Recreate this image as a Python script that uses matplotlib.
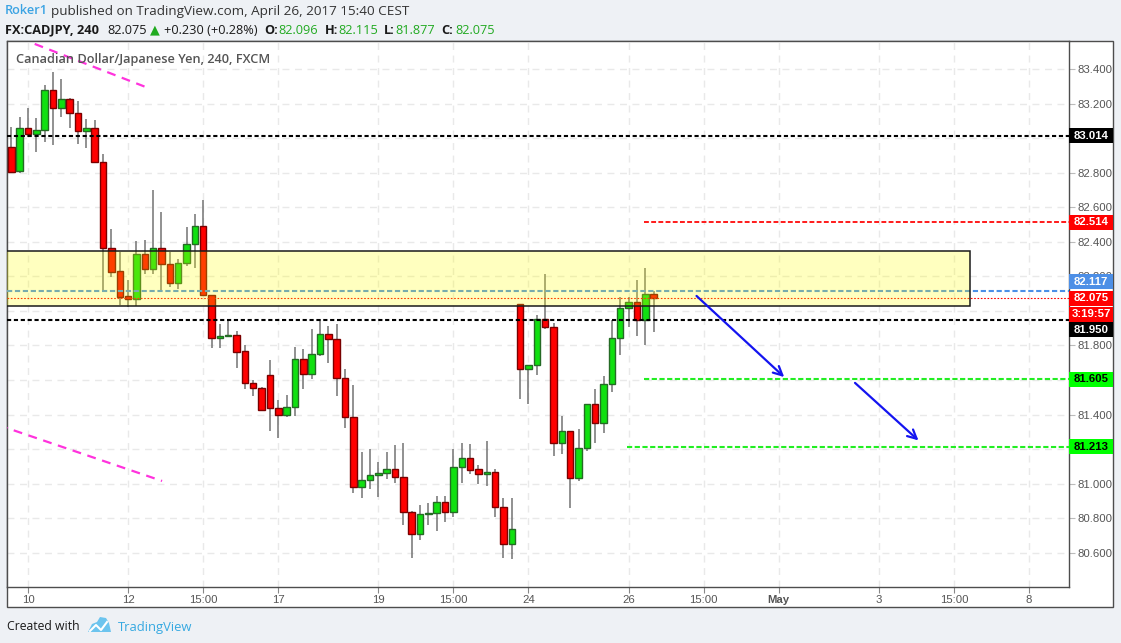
import matplotlib

matplotlib.use("Agg")
import matplotlib.pyplot as plt
from matplotlib.patches import Rectangle, Polygon
from matplotlib.transforms import blended_transform_factory

plt.rcParams["font.family"] = ["Liberation Sans", "DejaVu Sans"]

W, H = 1121, 643

# CADJPY 4h candles, Apr 7 - Apr 26 2017
opens = [
    82.948, 82.813, 83.058, 83.027, 83.047, 83.278, 83.178, 83.226, 83.145, 83.041,
    83.058, 82.861, 82.363, 82.230, 82.087, 82.067, 82.328, 82.245, 82.363, 82.270,
    82.164, 82.276, 82.386, 82.492, 82.094, 81.842, 81.855, 81.859, 81.768, 81.581,
    81.552, 81.627, 81.436, 81.395, 81.442, 81.720, 81.633, 81.749, 81.865, 81.836,
    81.610, 81.387, 80.978, 81.019, 81.048, 81.059, 81.083, 81.036, 80.837, 80.706,
    80.822, 80.828, 80.891, 80.837, 81.094, 81.146, 81.083, 81.054, 81.065, 80.862,
    80.648, 82.038, 81.662, 81.685, 81.952, 81.905, 81.233, 81.303, 81.034, 81.204,
    81.459, 81.349, 81.575, 81.842, 82.015, 82.050, 81.946, 82.096,
]
highs = [
    83.064, 83.122, 83.174, 83.116, 83.309, 83.383, 83.344, 83.234, 83.216, 83.110,
    83.106, 82.909, 82.473, 82.343, 82.179, 82.405, 82.411, 82.701, 82.573, 82.343,
    82.301, 82.486, 82.562, 82.643, 82.094, 81.924, 81.953, 81.884, 81.803, 81.600,
    81.558, 81.716, 81.484, 81.511, 81.791, 81.780, 81.895, 81.953, 81.911, 81.924,
    81.664, 81.571, 81.183, 81.200, 81.125, 81.183, 81.223, 81.235, 80.843, 80.874,
    80.887, 80.928, 80.928, 81.200, 81.235, 81.229, 81.106, 81.246, 81.083, 80.915,
    80.915, 82.040, 81.685, 81.975, 82.214, 81.928, 81.391, 81.303, 81.316, 81.459,
    81.548, 81.623, 81.948, 82.079, 82.079, 82.179, 82.247, 82.115,
]
lows = [
    82.802, 82.801, 83.006, 82.923, 82.981, 82.961, 83.125, 83.062, 82.967, 82.946,
    82.857, 82.121, 82.195, 82.034, 82.021, 82.029, 82.216, 82.216, 82.121, 82.140,
    82.125, 82.260, 82.251, 82.092, 81.787, 81.784, 81.847, 81.668, 81.546, 81.509,
    81.420, 81.306, 81.262, 81.384, 81.393, 81.549, 81.607, 81.739, 81.700, 81.507,
    81.324, 80.947, 80.918, 80.970, 80.924, 81.025, 81.001, 80.758, 80.570, 80.675,
    80.758, 80.727, 80.779, 80.808, 81.005, 81.057, 80.999, 80.988, 80.808, 80.570,
    80.565, 81.488, 81.461, 81.629, 81.894, 81.162, 81.173, 80.860, 81.016, 81.190,
    81.237, 81.295, 81.532, 81.745, 81.905, 81.857, 81.804, 81.877,
]
closes = [
    82.807, 83.058, 83.027, 83.047, 83.278, 83.178, 83.226, 83.145, 83.041, 83.058,
    82.861, 82.363, 82.227, 82.083, 82.067, 82.328, 82.245, 82.363, 82.270, 82.164,
    82.276, 82.386, 82.492, 82.094, 81.842, 81.855, 81.861, 81.764, 81.581, 81.552,
    81.424, 81.436, 81.395, 81.442, 81.720, 81.633, 81.749, 81.865, 81.836, 81.610,
    81.387, 80.978, 81.019, 81.048, 81.059, 81.083, 81.036, 80.837, 80.706, 80.822,
    80.827, 80.891, 80.838, 81.094, 81.146, 81.080, 81.054, 81.065, 80.862, 80.648,
    80.735, 81.662, 81.685, 81.952, 81.905, 81.233, 81.303, 81.034, 81.204, 81.459,
    81.349, 81.575, 81.842, 82.015, 82.050, 81.946, 82.096, 82.075,
]

tick_pos = [2, 14, 23, 32, 44, 53, 62, 74, 83, 92, 104, 113, 122]
tick_labels = ["10", "12", "15:00", "17", "19", "15:00", "24", "26", "15:00", "May", "3", "15:00", "8"]
price_ticks = [80.6, 80.8, 81.0, 81.2, 81.4, 81.6, 81.8, 82.0, 82.2, 82.4, 82.6, 82.8, 83.0, 83.2, 83.4]
hidden_ticks = [81.2, 81.6, 82.0, 83.0]  # covered by the price labels on the scale

# drawings
zone_x = [-3, 114.9]
zone_y = [82.027, 82.346]
black_levels = [83.014, 81.950]
resist_level = 82.514
target_levels = [81.605, 81.213]
target_start = [75.8, 73.8]
blue_level = 82.117
last_price = 82.075
pink_top_x, pink_top_y = [2.8, 16.4], [83.547, 83.292]
pink_bot_x, pink_bot_y = [-2.0, 18.07], [81.346, 81.015]
arrows = [((81.9, 82.098), (92.9, 81.606)), ((100.9, 81.594), (109.0, 81.239))]

label_texts = ["83.014", "82.514", "82.117", "82.075", "3:19:57", "81.950", "81.605", "81.213"]
label_y = [83.014, 82.514, 82.168, 82.075, 81.982, 81.890, 81.605, 81.213]
label_bg = ["#000000", "#ff0000", "#4d8fe6", "#ff0000", "#ff0000", "#000000", "#00ff00", "#00ff00"]
label_fg = ["white", "white", "white", "white", "white", "white", "black", "black"]

ymin, ymax = 80.4006, 83.564
xmin, xmax = -0.52, 126.8


def fx(px):
    return px / W


def fy(py):
    return 1 - py / H


fig = plt.figure(figsize=(W / 100, H / 100), dpi=100)
fig.patch.set_facecolor("#eef1f5")
fig.patches.append(Rectangle((fx(7), fy(607)), fx(1113) - fx(7), fy(41) - fy(607),
                             transform=fig.transFigure, facecolor="white",
                             edgecolor="#4d4d4d", lw=1, zorder=-5))

ax = fig.add_axes([fx(7), fy(587), (1069 - 7) / W, (587 - 41) / H])
ax.set_xlim(xmin, xmax)
ax.set_ylim(ymin, ymax)

# candles
idx = list(range(len(opens)))
ax.vlines(idx, lows, highs, color="#737373", lw=1.1, zorder=3)
for i, o, c in zip(idx, opens, closes):
    up = c >= o
    ax.bar(i, abs(c - o), bottom=min(o, c), width=0.78,
           color="#10e010" if up else "#ff0000",
           edgecolor="#256b25" if up else "#7a0000", lw=1.0, zorder=4)

# horizontal levels
for lv in black_levels:
    ax.axhline(lv, color="black", lw=1.5, ls=(0, (2, 1.3)), zorder=5)
ax.plot([75.8, xmax], [resist_level, resist_level], color="#ff1a1a", lw=1.4, ls=(0, (2.5, 1.2)), zorder=5)
for lv, xs in zip(target_levels, target_start):
    ax.plot([xs, xmax], [lv, lv], color="#22ee22", lw=1.5, ls=(0, (2.5, 1.2)), zorder=5)
ax.axhline(blue_level, color="#4a8fe7", lw=1.5, ls=(0, (2.5, 1.3)), zorder=5)
ax.axhline(last_price, color="#ff0000", lw=0.8, ls=(0, (1.5, 1.5)), zorder=5)

# channel lines
ax.plot(pink_top_x, pink_top_y, color="#ff33dd", lw=1.6, ls=(0, (4, 3)), zorder=5)
ax.plot(pink_bot_x, pink_bot_y, color="#ff33dd", lw=1.6, ls=(0, (4, 3)), zorder=5)

# supply/demand zone
ax.add_patch(Rectangle((zone_x[0], zone_y[0]), zone_x[1] - zone_x[0], zone_y[1] - zone_y[0],
                       facecolor=(1, 1, 0, 0.25), edgecolor="#1a1a1a", lw=1.1, zorder=6))

for (x0, y0), (x1, y1) in arrows:
    ax.annotate("", xy=(x1, y1), xytext=(x0, y0),
                arrowprops=dict(arrowstyle="->", color="#1414f0", lw=1.6, mutation_scale=16),
                zorder=7)

# grid / axes
ax.set_xticks(tick_pos)
ax.set_xticklabels(tick_labels)
ax.set_yticks(price_ticks)
ax.set_yticklabels(["" if any(abs(v - h) < 1e-9 for h in hidden_ticks) else f"{v:.3f}"
                    for v in price_ticks])
ax.grid(True, color="#e9e9e9", lw=1, ls=(0, (5, 4)), zorder=0)
ax.set_axisbelow(True)
ax.yaxis.tick_right()
ax.tick_params(axis="y", length=4, color="#bbbbbb", labelcolor="#555555", labelsize=8.2, pad=2)
ax.tick_params(axis="x", length=4, color="#888888", labelcolor="#555555", labelsize=8.2, pad=2)
for lab in ax.get_xticklabels():
    if lab.get_text() == "May":
        lab.set_fontweight("bold")
for sp in ax.spines.values():
    sp.set_color("#4d4d4d")
    sp.set_linewidth(1)

# price labels on the right scale
trans = blended_transform_factory(ax.transAxes, ax.transData)
box_h = 15 * (ymax - ymin) / 546
box_w = (1113 - 1069) / (1069 - 7)
for txt, yv, bg, fg in zip(label_texts, label_y, label_bg, label_fg):
    ax.add_patch(Rectangle((1.0, yv - box_h / 2), box_w, box_h, transform=trans,
                           facecolor=bg, edgecolor="none", clip_on=False, zorder=10))
    ax.text(1.0 + box_w / 2, yv, txt, transform=trans, ha="center", va="center",
            color=fg, fontsize=8.2, fontweight="bold", clip_on=False, zorder=11)

hdr = ["Open Sans", "DejaVu Sans"]
fig.text(fx(16), fy(60), "Canadian Dollar/Japanese Yen, 240, FXCM", ha="left", va="center",
         fontsize=9.2, color="#555555", fontweight="semibold", family=hdr)

# header
fig.text(fx(5), fy(11), "Roker1", ha="left", va="center", fontsize=9.2, color="#3ba3e3",
         fontweight="semibold", family=hdr)
fig.text(fx(51), fy(11), "published on TradingView.com, April 26, 2017 15:40 CEST", ha="left",
         va="center", fontsize=9.7, color="#333333", family=hdr)

pieces = [
    (5, "FX:CADJPY, 240", "#1a1a1a", "bold"),
    (107, "82.075", "#1a1a1a", "normal"),
    (150, "\u25b2", "#1faa1f", "normal"),
    (164, "+0.230 (+0.28%)", "#1a1a1a", "normal"),
    (264, "O:", "#1a1a1a", "bold"),
    (278, "82.096", "#22aa22", "normal"),
    (325, "H:", "#1a1a1a", "bold"),
    (338, "82.115", "#22aa22", "normal"),
    (384, "L:", "#1a1a1a", "bold"),
    (395, "81.877", "#22aa22", "normal"),
    (441, "C:", "#1a1a1a", "bold"),
    (455, "82.075", "#22aa22", "normal"),
]
for px, txt, col, wt in pieces:
    fig.text(fx(px), fy(30), txt, ha="left", va="center", fontsize=9.2, color=col,
             fontweight=wt, family=hdr)

# footer
fig.text(fx(7), fy(627), "Created with", ha="left", va="center", fontsize=8.8, color="#1a1a1a", family=hdr)
fig.text(fx(118), fy(627), "TradingView", ha="left", va="center", fontsize=9.4, color="#36a9e1", family=hdr)
cloud = [(88, 632), (92, 624), (97, 622), (100, 617), (106, 618), (109, 623), (111, 632)]
fig.patches.append(Polygon([(fx(a), fy(b)) for a, b in cloud], closed=True, transform=fig.transFigure,
                           facecolor="#6cc4ee", edgecolor="none"))
zig = [(90, 631), (96, 625), (101, 630), (107, 622)]
fig.lines.append(plt.Line2D([fx(a) for a, b in zig], [fy(b) for a, b in zig], transform=fig.transFigure,
                            color="white", lw=1.5))

fig.savefig("out.png", dpi=100, facecolor=fig.get_facecolor())
